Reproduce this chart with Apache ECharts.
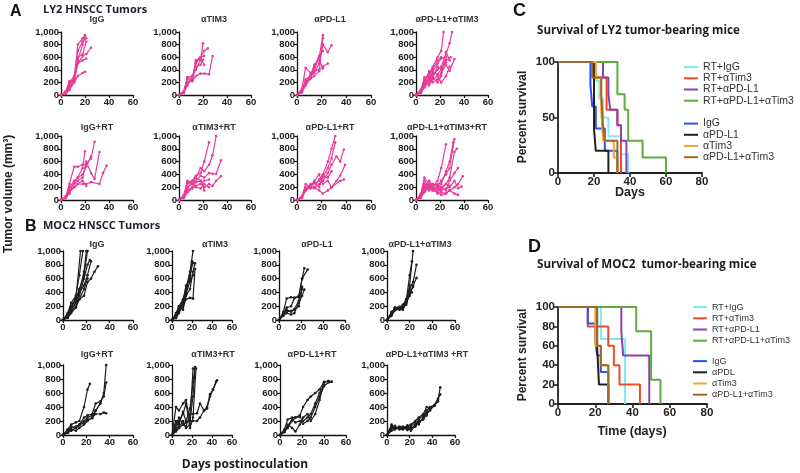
<!DOCTYPE html>
<html><head><meta charset="utf-8">
<script src="https://cdn.jsdelivr.net/npm/echarts@6/dist/echarts.min.js"></script>
<style>html,body{margin:0;padding:0;background:#fff}#c{width:800px;height:473px}</style>
</head><body><div id="c"></div>
<script>
// ---------- DATA ----------
const volTicks = [0, 200, 400, 600, 800, 1000];
const dayTicks = [0, 20, 40, 60];

// LY2 (panel A) tumour growth curves, each mouse = list of [day, volume]
const ly2_IgG = [
  [[0,0],[4,40],[7,150],[11,250],[14,550],[18,800],[20,950]],
  [[0,0],[4,60],[7,200],[11,300],[14,700],[18,850],[21,900]],
  [[0,0],[4,30],[7,120],[11,220],[14,600],[18,650],[21,850]],
  [[0,0],[4,50],[7,180],[11,260],[14,500],[18,620],[21,650],[25,750]],
  [[0,0],[4,30],[7,100],[11,230],[14,500],[18,550],[21,580]],
  [[0,0],[4,20],[7,80],[11,200],[14,300],[18,350],[20,370]],
  [[0,0],[4,50],[7,220],[11,240],[14,800],[18,900],[20,930]]
];
const ly2_TIM3 = [
  [[0,0],[4,50],[7,150],[11,280],[14,400],[18,550],[20,820]],
  [[0,0],[4,60],[7,280],[11,250],[14,500],[18,600],[21,700],[24,740]],
  [[0,0],[4,40],[7,250],[11,220],[14,550],[18,600],[21,620]],
  [[0,0],[4,30],[7,200],[11,230],[14,300],[18,340],[21,340],[25,330],[28,620]],
  [[0,0],[4,50],[7,280],[11,300],[14,450],[18,480],[20,560]],
  [[0,0],[4,40],[7,180],[11,250],[14,520],[18,580],[21,480]]
];
const ly2_PDL1 = [
  [[0,0],[4,100],[7,430],[11,350],[14,400],[18,600],[21,950]],
  [[0,0],[4,80],[7,250],[11,300],[14,350],[18,500],[21,800],[25,680],[28,790]],
  [[0,0],[4,60],[7,200],[11,280],[14,450],[18,620],[21,700]],
  [[0,0],[4,50],[7,180],[11,300],[14,380],[18,400],[21,450],[25,500]],
  [[0,0],[4,60],[7,220],[11,320],[14,480],[18,560],[21,420]],
  [[0,0],[4,40],[7,150],[11,260],[14,300],[18,380],[21,900]]
];
const ly2_PDL1_TIM3 = [
  [[0,0],[4,80],[7,200],[11,350],[14,450],[18,600],[21,700],[23,1000]],
  [[0,0],[4,60],[7,280],[11,300],[14,420],[18,550],[21,600]],
  [[0,0],[4,50],[7,150],[11,250],[14,300],[18,400],[21,450],[25,650],[28,820],[30,1000]],
  [[0,0],[4,80],[7,250],[11,200],[14,350],[18,330],[21,400],[25,550],[29,600]],
  [[0,0],[4,40],[7,150],[11,300],[14,200],[18,250],[21,350],[25,480],[28,380],[32,570]],
  [[0,0],[4,60],[7,220],[11,150],[14,250],[18,300],[21,200],[25,300],[28,450]],
  [[0,0],[4,50],[7,180],[11,250],[14,380],[18,500],[21,580],[25,600]],
  [[0,0],[4,30],[7,120],[11,200],[14,280],[18,200],[21,300],[25,680],[28,550]],
  [[0,0],[4,60],[7,200],[11,380],[14,300],[18,450],[21,400],[25,520]]
];
const ly2_IgG_RT = [
  [[0,0],[4,60],[7,250],[11,520],[14,520],[18,550],[21,560],[25,650],[28,910]],
  [[0,0],[4,40],[7,200],[11,300],[14,350],[18,500],[20,760]],
  [[0,0],[4,50],[7,180],[11,250],[14,300],[18,350],[21,600],[25,420],[28,330],[32,750]],
  [[0,0],[4,30],[7,150],[11,200],[14,250],[18,250],[21,250],[25,280],[32,250],[35,420],[38,540]],
  [[0,0],[4,40],[7,100],[11,280],[14,350],[18,400],[21,520],[25,680]],
  [[0,0],[4,30],[7,120],[11,200],[14,250],[18,300],[21,220]]
];
const ly2_TIM3_RT = [
  [[0,0],[4,80],[7,280],[11,300],[14,380],[18,420],[21,600],[25,900]],
  [[0,0],[4,60],[7,250],[11,280],[14,350],[18,500],[21,450],[25,550],[28,700],[31,1000]],
  [[0,0],[4,50],[7,200],[11,250],[14,300],[18,380],[21,350],[25,420],[28,410],[31,410],[35,620]],
  [[0,0],[4,40],[7,150],[11,200],[14,280],[18,300],[21,200],[25,250],[28,220],[31,300],[35,370]],
  [[0,0],[4,60],[7,300],[11,260],[14,200],[18,180],[21,250],[25,200]],
  [[0,0],[4,30],[7,120],[11,180],[14,220],[18,250],[21,300],[25,320]],
  [[0,0],[4,50],[7,180],[11,280],[14,350],[18,300],[21,150]]
];
const ly2_PDL1_RT = [
  [[0,0],[4,50],[7,150],[11,250],[14,200],[18,320],[21,400],[25,600],[28,800],[31,1000]],
  [[0,0],[4,40],[7,180],[11,220],[14,260],[18,300],[21,350],[25,500],[28,650],[31,900]],
  [[0,0],[4,60],[7,250],[11,200],[14,180],[18,250],[21,300],[25,420],[28,550],[32,680],[35,600],[38,790]],
  [[0,0],[4,50],[7,200],[11,180],[14,200],[18,150],[21,100],[25,150],[28,200],[32,300],[35,380],[39,550]],
  [[0,0],[4,40],[7,180],[11,240],[14,280],[18,200],[21,380],[25,350],[28,450]],
  [[0,0],[4,30],[7,150],[11,200],[14,300],[18,400],[21,250],[25,300],[28,200],[35,300],[38,320]]
];
const ly2_PDL1_TIM3_RT = [
  [[0,0],[4,100],[7,350],[11,250],[14,200],[18,300],[21,500],[25,870]],
  [[0,0],[4,80],[7,300],[11,200],[14,250],[18,200],[21,250],[25,450],[28,600],[31,900]],
  [[0,0],[4,60],[7,250],[11,200],[14,180],[18,220],[21,300],[25,400],[28,500],[32,950]],
  [[0,0],[4,50],[7,200],[11,150],[14,250],[18,200],[21,180],[25,250],[28,350],[32,750],[34,800]],
  [[0,0],[4,40],[7,180],[11,220],[14,200],[18,150],[21,200],[25,150],[28,300],[32,420],[35,500]],
  [[0,0],[4,70],[7,220],[11,180],[14,150],[18,200],[21,120],[25,100],[28,150],[32,200],[35,250],[39,370]],
  [[0,0],[4,50],[7,150],[11,250],[14,200],[18,100],[21,150],[25,180],[28,200],[32,300],[35,180],[38,210]],
  [[0,0],[4,30],[7,200],[11,300],[14,220],[18,250],[21,200],[25,250],[28,220]],
  [[0,0],[4,40],[7,120],[11,200],[14,150],[18,120],[21,80],[25,100],[28,150],[32,100],[35,80]]
];

// MOC2 (panel B)
const moc2_IgG = [
  [[0,0],[4,80],[7,200],[11,300],[15,1000]],
  [[0,0],[4,100],[7,250],[11,350],[14,650],[17,1000]],
  [[0,0],[4,50],[7,150],[11,250],[14,400],[18,700],[20,1000]],
  [[0,0],[4,60],[7,180],[11,300],[14,450],[18,650],[21,1000]],
  [[0,0],[4,40],[7,120],[11,200],[14,350],[18,600],[21,800],[23,870]],
  [[0,0],[4,50],[7,200],[11,320],[14,400],[18,500],[21,650],[24,850]],
  [[0,0],[4,30],[7,100],[11,180],[14,300],[18,350],[21,550],[24,600],[27,700],[30,780]],
  [[0,0],[4,60],[7,150],[11,250],[14,300],[18,450],[21,600]]
];
const moc2_TIM3 = [
  [[0,0],[4,100],[7,200],[11,300],[14,450],[18,700],[21,1000]],
  [[0,0],[4,80],[7,180],[11,280],[14,500],[18,600],[20,850]],
  [[0,0],[4,60],[7,150],[11,250],[14,400],[18,650],[21,830]],
  [[0,0],[4,50],[7,200],[11,150],[14,350],[18,450],[21,700],[23,820]],
  [[0,0],[4,40],[7,120],[11,200],[14,300],[18,320],[21,310],[23,740]],
  [[0,0],[4,30],[7,100],[11,220],[14,380],[18,560],[21,650]]
];
const moc2_PDL1 = [
  [[0,0],[4,120],[7,310],[11,330],[14,320],[18,350],[21,600],[23,750]],
  [[0,0],[4,100],[7,180],[11,200],[14,320],[18,330],[21,600],[26,730]],
  [[0,0],[4,80],[7,120],[11,130],[14,150],[18,200],[21,450]],
  [[0,0],[4,60],[7,100],[11,80],[14,100],[18,250],[21,350],[23,440]],
  [[0,0],[4,100],[7,150],[11,120],[14,160],[18,280],[21,480]]
];
const moc2_PDL1_TIM3 = [
  [[0,0],[4,100],[7,180],[11,160],[14,180],[17,250],[20,500],[23,1000]],
  [[0,0],[4,120],[7,160],[11,170],[14,200],[17,280],[20,650],[22,850]],
  [[0,0],[4,80],[7,150],[11,180],[14,220],[17,300],[20,450],[23,550],[26,800]],
  [[0,0],[4,100],[7,170],[11,150],[14,150],[17,250],[20,350],[23,500],[26,610]],
  [[0,0],[4,60],[7,140],[11,160],[14,180],[17,220],[20,400],[23,480]],
  [[0,0],[4,90],[7,180],[11,190],[14,160],[17,300],[20,380],[22,400]]
];
const moc2_IgG_RT = [
  [[0,0],[4,80],[7,150],[11,180],[14,200],[18,400],[21,650],[23,730]],
  [[0,0],[4,50],[7,100],[11,120],[14,150],[18,200],[21,250],[25,280],[28,350],[32,450],[35,600],[37,1000]],
  [[0,0],[4,60],[7,120],[11,100],[14,150],[18,250],[21,280],[25,300],[28,450],[32,480],[35,550],[37,750]],
  [[0,0],[4,40],[7,80],[11,60],[14,100],[18,150],[21,200],[25,250],[28,300],[32,300],[35,320],[37,310]],
  [[0,0],[4,30],[7,60],[11,100],[14,140],[18,180],[21,220],[25,240],[28,350],[32,450]]
];
const moc2_TIM3_RT = [
  [[0,0],[4,400],[7,350],[11,450],[14,500],[18,200],[21,550],[23,950]],
  [[0,0],[4,200],[7,150],[11,330],[14,200],[18,380],[21,750],[23,970]],
  [[0,0],[4,100],[7,200],[11,300],[14,450],[18,100],[21,250],[24,950]],
  [[0,0],[4,150],[7,250],[11,150],[14,120],[18,300],[21,300],[25,310],[28,450],[32,350],[35,380],[38,550],[41,650],[44,760]],
  [[0,0],[4,50],[7,100],[11,150],[14,180],[18,200],[21,200],[25,200],[28,250],[32,350],[35,400],[38,580],[41,650],[45,780]],
  [[0,0],[4,80],[7,120],[11,200],[14,100],[18,150],[21,950]]
];
const moc2_PDL1_RT = [
  [[0,0],[4,50],[7,100],[11,200],[14,250],[18,280],[21,400],[25,500],[28,550],[32,600],[36,650],[40,760],[44,770],[47,760]],
  [[0,0],[4,80],[7,220],[11,250],[14,250],[18,260],[21,200],[25,250],[28,300],[32,450],[36,600],[40,720]],
  [[0,0],[4,60],[7,150],[11,100],[14,50],[18,150],[21,250],[25,300],[28,200],[32,300],[36,500],[40,750],[44,770]],
  [[0,0],[4,40],[7,120],[11,230],[14,180],[18,200],[21,160],[25,200],[28,250],[32,400],[36,550],[40,700],[44,750],[47,760]]
];
const moc2_PDL1_TIM3_RT = [
  [[0,0],[4,150],[7,100],[11,120],[14,100],[18,120],[21,150],[25,200],[28,250],[32,300],[35,400],[38,380],[42,420],[45,500],[47,680]],
  [[0,0],[4,120],[7,90],[11,110],[14,80],[18,100],[21,80],[25,150],[28,220],[32,280],[35,350],[38,400],[42,430],[45,520],[47,580]],
  [[0,0],[4,80],[7,110],[11,90],[14,120],[18,100],[21,120],[25,180],[28,150],[32,250],[35,320],[38,360],[42,420],[45,480]],
  [[0,0],[4,60],[7,80],[11,100],[14,110],[18,70],[21,100],[25,120],[28,200],[32,220],[35,300],[38,350]],
  [[0,0],[4,100],[7,130],[11,80],[14,90],[18,140],[21,60],[25,130],[28,180],[32,240],[35,280]]
];

// Survival (Kaplan-Meier steps: [day, percent surviving after that day])
const survC_names = ['RT+IgG','RT+αTim3','RT+αPD-L1','RT+αPD-L1+αTim3','IgG','αPD-L1','αTim3','αPD-L1+αTim3'];
const survC = [
  [[0,100],[21,83],[23,67],[25,50],[28,33],[35,17],[39,0]],
  [[0,100],[20,86],[27,57],[33,43],[35,0]],
  [[0,100],[25,86],[28,71],[29,57],[33,43],[35,29],[38,14],[38,0]],
  [[0,100],[33,71],[37,57],[39,29],[47,14],[60,0]],
  [[0,100],[18,80],[19,60],[21,40],[26,20],[33,0]],
  [[0,100],[20,40],[21,20],[28,0]],
  [[0,100],[21,86],[24,57],[25,29],[31,14],[33,0]],
  [[0,100],[19,86],[24,71],[25,43],[26,29],[33,0]]
];
const survD_names = ['RT+IgG','RT+αTim3','RT+αPD-L1','RT+αPD-L1+αTim3','IgG','αPDL','αTim3 ','αPD-L1+αTim3 '];
const survD = [
  [[0,100],[23,67],[36,50],[36,0]],
  [[0,100],[16,80],[27,60],[30,40],[33,20],[44,0]],
  [[0,100],[34,75],[35,50],[49,0]],
  [[0,100],[42,75],[50,25],[55,0]],
  [[0,100],[16,83],[20,67],[21,50],[23,33],[27,0]],
  [[0,100],[21,60],[22,20],[27,0]],
  [[0,100],[20,60],[23,40],[27,0]],
  [[0,100],[21,60],[23,40],[27,0]]
];
const survColors = ['#7fe9f2','#ee4a2a','#8c3fae','#5dab3f','#2c52f2','#222222','#f7a531','#9a6a2a'];

// ---------- LAYOUT ----------
const pink = '#e63d98', blk = '#1e1e1e';
const small = [
  {t:'IgG', d:ly2_IgG, g:[61,32,72,63], c:pink, tx:97, ty:20},
  {t:'αTIM3', d:ly2_TIM3, g:[179,32,72,63], c:pink, tx:214, ty:20},
  {t:'αPD-L1', d:ly2_PDL1, g:[297,32,74,63], c:pink, tx:330, ty:20},
  {t:'αPD-L1+αTIM3', d:ly2_PDL1_TIM3, g:[416,32,72,63], c:pink, tx:447, ty:20},
  {t:'IgG+RT', d:ly2_IgG_RT, g:[61,136,72,64], c:pink, tx:97, ty:128},
  {t:'αTIM3+RT', d:ly2_TIM3_RT, g:[179,136,72,64], c:pink, tx:214, ty:128},
  {t:'αPD-L1+RT', d:ly2_PDL1_RT, g:[297,136,74,64], c:pink, tx:330, ty:128},
  {t:'αPD-L1+αTIM3+RT', d:ly2_PDL1_TIM3_RT, g:[416,136,72,64], c:pink, tx:447, ty:128},
  {t:'IgG', d:moc2_IgG, g:[63,251,70,69], c:blk, tx:97, ty:245},
  {t:'αTIM3', d:moc2_TIM3, g:[172,251,60,69], c:blk, tx:215, ty:245},
  {t:'αPD-L1', d:moc2_PDL1, g:[279,251,66,69], c:blk, tx:317, ty:245},
  {t:'αPD-L1+αTIM3', d:moc2_PDL1_TIM3, g:[387,251,68,69], c:blk, tx:420, ty:245},
  {t:'IgG+RT', d:moc2_IgG_RT, g:[63,365,70,70], c:blk, tx:97, ty:355},
  {t:'αTIM3+RT', d:moc2_TIM3_RT, g:[172,365,60,70], c:blk, tx:213, ty:355},
  {t:'αPD-L1+RT', d:moc2_PDL1_RT, g:[280,365,66,70], c:blk, tx:312, ty:355},
  {t:'αPD-L1+αTIM3 +RT', d:moc2_PDL1_TIM3_RT, g:[387,365,68,70], c:blk, tx:427, ty:355}
];

const FF = '"Liberation Sans", Arial, sans-serif';
const OS = '"Open Sans", sans-serif';
const grid = [], xAxis = [], yAxis = [], series = [], title = [];
const axLine = {show:true, lineStyle:{color:'#111', width:1.3}};
const axTick = {show:true, inside:false, length:3, lineStyle:{color:'#111', width:1.2}};

small.forEach((p, i) => {
  grid.push({left:p.g[0], top:p.g[1], width:p.g[2], height:p.g[3], containLabel:false});
  xAxis.push({type:'value', gridIndex:i, min:dayTicks[0], max:dayTicks[dayTicks.length-1], interval:20,
    axisLine:axLine, axisTick:axTick, splitLine:{show:false},
    axisLabel:{fontSize:9.5, fontWeight:'bold', color:'#222', margin:2, fontFamily:FF}});
  yAxis.push({type:'value', gridIndex:i, min:volTicks[0], max:volTicks[volTicks.length-1], interval:200,
    axisLine:axLine, axisTick:axTick, splitLine:{show:false},
    axisLabel:{fontSize:9.5, fontWeight:'bold', color:'#222', margin:2, fontFamily:FF,
      formatter: v => v >= 1000 ? (Math.floor(v/1000) + ',' + String(v%1000).padStart(3,'0')) : String(v)}});
  title.push({text:p.t, left:p.tx, top:p.ty - 5, textAlign:'center', padding:0,
    textStyle:{fontSize:9, fontWeight:'bold', color:'#333', fontFamily:FF}});
  p.d.forEach(m => series.push({type:'line', xAxisIndex:i, yAxisIndex:i, data:m, symbol:'circle', symbolSize:2.6,
    showSymbol:true, clip:true, lineStyle:{color:p.c, width:1.2}, itemStyle:{color:p.c}, silent:true}));
});

// survival panels
const survPanels = [
  {names:survC_names, d:survC, g:[558,62,144,111], yi:50, legTops:[61.5,118], legLeft:684, fs:10.5},
  {names:survD_names, d:survD, g:[558,307,149,97], yi:20, legTops:[301.5,355.5], legLeft:693, fs:9}
];
const legend = [];
survPanels.forEach((p, k) => {
  const gi = grid.length;
  grid.push({left:p.g[0], top:p.g[1], width:p.g[2], height:p.g[3]});
  xAxis.push({type:'value', gridIndex:gi, min:0, max:80, interval:20,
    axisLine:{show:true, lineStyle:{color:'#222', width:1.8}}, axisTick:{show:true, length:4, lineStyle:{color:'#222', width:1.6}},
    splitLine:{show:false}, axisLabel:{fontSize:11.5, fontWeight:'bold', color:'#222', margin:3, fontFamily:FF}});
  yAxis.push({type:'value', gridIndex:gi, min:0, max:100, interval:p.yi,
    axisLine:{show:true, lineStyle:{color:'#222', width:1.8}}, axisTick:{show:true, length:4, lineStyle:{color:'#222', width:1.6}},
    splitLine:{show:false}, axisLabel:{fontSize:11.5, fontWeight:'bold', color:'#222', margin:3, fontFamily:FF}});
  p.d.forEach((s, j) => series.push({type:'line', name:p.names[j], xAxisIndex:gi, yAxisIndex:gi, data:s, step:'end',
    symbol:'none', lineStyle:{color:survColors[j], width:2}, itemStyle:{color:survColors[j]}, silent:true}));
  [0,1].forEach(h => legend.push({
    data:p.names.slice(h*4, h*4+4), left:p.legLeft, top:p.legTops[h], orient:'vertical', padding:0,
    itemWidth:14, itemHeight:2, itemGap:0, icon:'rect', selectedMode:false,
    textStyle:{fontSize:p.fs, color:'#333', fontFamily:FF, lineHeight:11.2}
  }));
});

title.push(
  {text:'A', left:10, top:4, padding:0, textStyle:{fontSize:16, fontWeight:'bold', color:'#111', fontFamily:FF}},
  {text:'LY2 HNSCC Tumors', left:43, top:4, padding:0, textStyle:{fontSize:11, fontWeight:'bold', color:'#1c1c2e', fontFamily:OS}},
  {text:'B', left:25, top:219, padding:0, textStyle:{fontSize:16, fontWeight:'bold', color:'#111', fontFamily:FF}},
  {text:'MOC2 HNSCC Tumors', left:43, top:220, padding:0, textStyle:{fontSize:11, fontWeight:'bold', color:'#1c1c2e', fontFamily:OS}},
  {text:'C', left:513, top:2, padding:0, textStyle:{fontSize:18, fontWeight:'bold', color:'#111', fontFamily:FF}},
  {text:'Survival of LY2 tumor-bearing mice', left:537, top:25, padding:0, textStyle:{fontSize:11.6, fontWeight:'bold', color:'#1c1c1c', fontFamily:OS}},
  {text:'D', left:528, top:238, padding:0, textStyle:{fontSize:18, fontWeight:'bold', color:'#111', fontFamily:FF}},
  {text:'Survival of MOC2  tumor-bearing mice', left:537, top:259, padding:0, textStyle:{fontSize:11.6, fontWeight:'bold', color:'#1c1c1c', fontFamily:OS}},
  {text:'Days', left:630, top:186, padding:0, textAlign:'center', textStyle:{fontSize:12.5, fontWeight:'bold', color:'#222', fontFamily:FF}},
  {text:'Time (days)', left:632, top:425, padding:0, textAlign:'center', textStyle:{fontSize:12.5, fontWeight:'bold', color:'#222', fontFamily:FF}},
  {text:'Days postinoculation', left:245, top:459, padding:0, textAlign:'center', textStyle:{fontSize:12, fontWeight:'bold', color:'#1c1c1c', fontFamily:OS}}
);

const graphic = [
  {type:'text', x:9, y:194, rotation:Math.PI/2, style:{text:'Tumor volume (mm³)', font:'bold 12px "Liberation Sans", Arial', fill:'#222', textAlign:'center', textVerticalAlign:'middle'}},
  {type:'text', x:523, y:117, rotation:Math.PI/2, style:{text:'Percent survival', font:'bold 12px "Liberation Sans", Arial', fill:'#222', textAlign:'center', textVerticalAlign:'middle'}},
  {type:'text', x:523, y:355, rotation:Math.PI/2, style:{text:'Percent survival', font:'bold 12px "Liberation Sans", Arial', fill:'#222', textAlign:'center', textVerticalAlign:'middle'}}
];

const chart = echarts.init(document.getElementById('c'), null, {renderer:'canvas'});
chart.setOption({animation:false, backgroundColor:'#fff', title, grid, xAxis, yAxis, series, legend, graphic});
</script></body></html>
